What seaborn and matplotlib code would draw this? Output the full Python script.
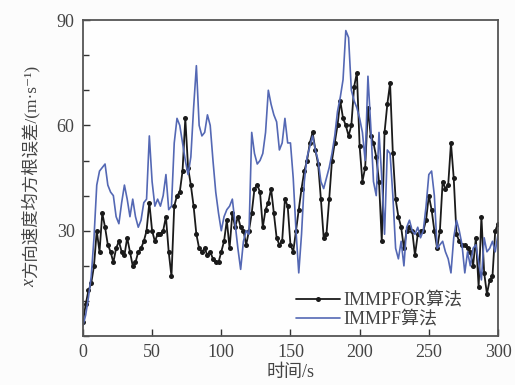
import numpy as np
import pandas as pd
import matplotlib
matplotlib.use("Agg")
import matplotlib.pyplot as plt
from matplotlib.ticker import MultipleLocator
import seaborn as sns

time_s = list(range(0, 301, 2))

immpfor = [4, 9, 13, 15, 20, 30, 24, 35, 31, 26, 24, 21, 25, 27, 24, 23, 28, 24, 20, 21,
           24, 25, 27, 30, 38, 30, 27, 29, 29, 30, 34, 24, 17, 37, 40, 41, 47, 62, 48, 43,
           37, 29, 25, 24, 25, 23, 24, 22, 21, 21, 24, 27, 33, 25, 35, 31, 34, 31, 30, 26,
           30, 35, 42, 43, 41, 31, 36, 38, 42, 35, 28, 26, 27, 39, 37, 26, 24, 30, 36, 42,
           47, 50, 55, 58, 53, 49, 39, 28, 29, 39, 50, 55, 60, 67, 62, 60, 57, 60, 71, 75,
           54, 44, 48, 65, 57, 55, 51, 44, 27, 58, 66, 72, 52, 39, 34, 31, 25, 30, 31, 30,
           23, 29, 30, 30, 33, 40, 36, 30, 25, 30, 44, 42, 43, 55, 45, 29, 27, 26, 26, 25,
           24, 20, 28, 14, 34, 18, 12, 16, 17, 30, 32]

immpf = [3, 6, 11, 17, 28, 43, 47, 48, 49, 43, 41, 40, 34, 32, 38, 43, 39, 34, 39, 34,
         31, 33, 38, 39, 57, 44, 37, 39, 37, 40, 46, 36, 37, 55, 62, 60, 55, 50, 46, 51,
         65, 77, 60, 57, 58, 63, 60, 50, 41, 35, 30, 34, 36, 37, 39, 32, 25, 19, 27, 30,
         29, 58, 52, 49, 50, 52, 58, 70, 66, 63, 61, 53, 55, 62, 55, 55, 45, 30, 18, 29,
         44, 51, 54, 57, 53, 50, 44, 42, 45, 48, 52, 57, 64, 68, 73, 87, 85, 70, 67, 65,
         62, 58, 50, 74, 60, 44, 40, 58, 45, 29, 53, 52, 40, 25, 22, 27, 20, 31, 33, 30,
         29, 31, 28, 30, 37, 46, 47, 40, 25, 26, 27, 24, 22, 18, 28, 33, 30, 26, 18, 24,
         20, 25, 26, 21, 16, 28, 24, 25, 27, 24, 29]

labels = ["IMMPFOR算法", "IMMPF算法"]
x_ticks = [0, 50, 100, 150, 200, 250, 300]
y_ticks = [30, 60, 90]

df = pd.DataFrame({
    "t": time_s * 2,
    "v": immpfor + immpf,
    "alg": [labels[0]] * len(time_s) + [labels[1]] * len(time_s),
})

sns.set_theme(style="ticks")
plt.rcParams["font.family"] = ["Liberation Serif", "Noto Sans CJK SC", "DejaVu Sans"]
plt.rcParams["axes.unicode_minus"] = False

fig = plt.figure(figsize=(5.15, 3.85), dpi=100)
fig.patch.set_facecolor("#fcfcfc")
ax = fig.add_axes([0.161, 0.127, 0.806, 0.821])
ax.set_facecolor("#fefefe")

sns.lineplot(data=df[df.alg == labels[0]], x="t", y="v", ax=ax, color="#1a1a1a",
             marker="o", markersize=3.6, markeredgewidth=0, linewidth=1.3,
             label=labels[0])
sns.lineplot(data=df[df.alg == labels[1]], x="t", y="v", ax=ax, color="#5468b4",
             linewidth=1.2, label=labels[1])

ax.set_xlim(0, 300)
ax.set_ylim(0, 90)
ax.set_xticks(x_ticks)
ax.set_yticks(y_ticks)
ax.yaxis.set_minor_locator(MultipleLocator(10))
ax.tick_params(axis="both", which="both", direction="in", labelsize=13,
               colors="#333333", labelcolor="#444444")
ax.tick_params(axis="both", which="major", length=5, width=1.0, pad=6)
ax.tick_params(axis="y", which="minor", length=4, width=1.0)
for s in ax.spines.values():
    s.set_color("#555555")
    s.set_linewidth(1.3)

ax.set_xlabel("时间/s", fontsize=13, color="#444444", labelpad=2)
ylab = ax.set_ylabel("方向速度均方根误差/(m·s⁻¹)", fontsize=12.5, color="#444444",
                     labelpad=4)
ax.yaxis.set_label_coords(-0.105, 0.52)

leg = ax.legend(loc="lower right", bbox_to_anchor=(0.94, -0.01), frameon=False,
                fontsize=13, handlelength=2.4, handletextpad=0.2, labelspacing=0.1,
                borderaxespad=0.2)
for txt in leg.get_texts():
    txt.set_color("#444444")

# italic "x" prefix of the y label
fig.canvas.draw()
bb = ylab.get_window_extent(fig.canvas.get_renderer())
W, H = fig.bbox.width, fig.bbox.height
fig.text((bb.x0 + bb.x1) / 2 / W, (bb.y0 - 1) / H, "x", rotation=90,
         ha="center", va="top", fontsize=13, style="italic", color="#444444",
         family=["Liberation Serif", "DejaVu Sans"])

fig.savefig("out.png", dpi=100, facecolor=fig.get_facecolor())
